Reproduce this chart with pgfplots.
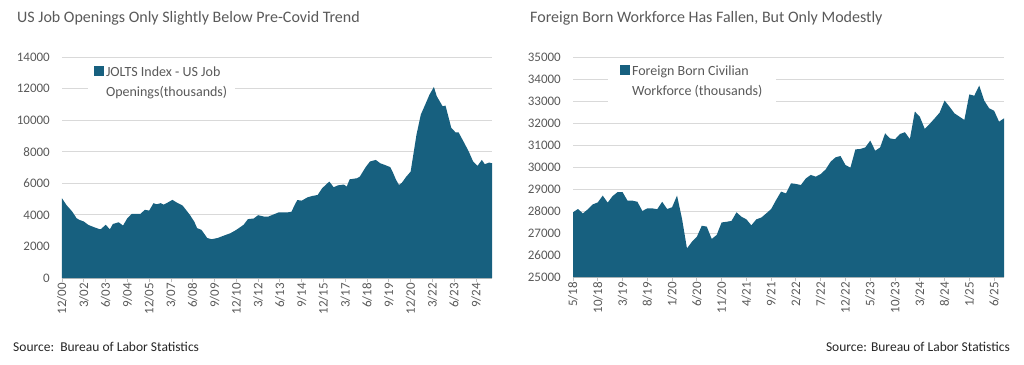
\documentclass[border=0pt]{standalone}
\usepackage{fontspec}
\setmainfont{Carlito}
\usepackage{pgfplots}
\pgfplotsset{compat=1.18}
\definecolor{fillc}{HTML}{17607F}
\definecolor{txt}{HTML}{595959}
\definecolor{gridc}{HTML}{D9D9D9}
\definecolor{axc}{HTML}{BFBFBF}
\pgfplotsset{mystyle/.style={
  scale only axis, clip=true,
  axis lines*=left,
  y axis line style={draw=none},
  x axis line style={draw=axc, line width=0.9pt, -},
  ytick style={draw=white, line width=0pt},
  xtick style={draw=axc, line width=0.9pt},
  major tick length=4pt, tick align=outside,
  ymajorgrids, major grid style={draw=gridc, line width=0.9pt},
  scaled y ticks=false,
  tick label style={font=\fontsize{13}{13}\selectfont, text=txt},
  /pgf/number format/assume math mode=true,
  /pgf/number format/set thousands separator={},
  /pgf/number format/fixed,
  x tick label style={rotate=90, anchor=east, inner sep=1pt},
  y tick label style={inner sep=0pt, xshift=-8pt},
  legend style={draw=none, fill=white, font=\fontsize{14}{20.5}\selectfont, text=txt,
     cells={align=left}, inner xsep=6pt, inner ysep=4pt},
  legend cell align=left,
  legend image code/.code={\fill[fillc] (0pt,6pt) rectangle (10pt,16pt);},
}}
\begin{document}
\begin{tikzpicture}
\path[use as bounding box] (0,0) rectangle (1024pt,364pt);
\node[anchor=west, inner sep=0pt, font=\fontsize{16}{16}\selectfont, text=txt] at (17pt,346pt) {US Job Openings Only Slightly Below Pre-Covid Trend};
\node[anchor=west, inner sep=0pt, font=\fontsize{16}{16}\selectfont, text=txt] at (530pt,346pt) {Foreign Born Workforce Has Fallen, But Only Modestly};
\node[anchor=west, inner sep=0pt, font=\fontsize{13.5}{13.5}\selectfont, text=black!85] at (13pt,17pt) {Source:\ \ Bureau of Labor Statistics};
\node[anchor=east, inner sep=0pt, font=\fontsize{13.5}{13.5}\selectfont, text=black!85] at (1010pt,17pt) {Source: Bureau of Labor Statistics};

\begin{axis}[mystyle, at={(62pt,86pt)}, anchor=south west, width=430pt, height=221pt,
  xmin=0, xmax=296, ymin=0, ymax=14000, ytick={0,2000,...,14000},
  xtick={0,15,...,285},
  xticklabels={12/00,3/02,6/03,9/04,12/05,3/07,6/08,9/09,12/10,3/12,6/13,9/14,12/15,3/17,6/18,9/19,12/20,3/22,6/23,9/24},
  legend style={at={(0.06,0.985)}, anchor=north west}]
\addplot[fill=fillc, draw=none] coordinates {
(0,5050) (3,4630) (7,4210) (10,3790) (12,3680) (15,3580) (18,3370) (22,3220) (26,3090) (27,3110) (30,3370) (33,3090) (35,3420) (39,3530) (42,3320) (45,3790) (48,4060) (51,4060) (54,4060) (57,4320) (60,4270) (63,4740) (65,4670) (68,4740) (70,4650) (72,4740) (76,4950) (79,4780) (83,4590) (85,4360) (88,4000) (91,3580) (93,3160) (96,3050) (100,2530) (103,2460) (107,2530) (111,2670) (116,2840) (120,3050) (125,3370) (128,3730) (132,3770) (135,3980) (139,3890) (142,3890) (146,4040) (149,4150) (155,4150) (158,4200) (160,4600) (162,4940) (165,4900) (169,5110) (172,5190) (176,5260) (179,5680) (184,6110) (187,5750) (190,5870) (194,5920) (196,5790) (198,6250) (203,6320) (205,6420) (209,7020) (212,7380) (216,7480) (219,7270) (222,7170) (226,7020) (228,6640) (230,6210) (232,5890) (234,6040) (237,6420) (240,6740) (244,9070) (247,10350) (250,10980) (253,11620) (256,12100) (258,11510) (262,10880) (264,10920) (268,9500) (271,9220) (273,9220) (277,8540) (280,8010) (283,7380) (286,7100) (289,7480) (291,7210) (294,7310) (296,7270)
} \closedcycle;
\addlegendentry{JOLTS Index - US Job\\Openings(thousands)}
\end{axis}

\begin{axis}[mystyle, at={(573pt,87pt)}, anchor=south west, width=431pt, height=220pt,
  xmin=0, xmax=87, ymin=25000, ymax=35000, ytick={25000,26000,...,35000},
  xtick={0,5,...,85},
  xticklabels={5/18,10/18,3/19,8/19,1/20,6/20,11/20,4/21,9/21,2/22,7/22,12/22,5/23,10/23,3/24,8/24,1/25,6/25},
  legend style={at={(0.081,0.99)}, anchor=north west, inner xsep=12pt}]
\addplot[fill=fillc, draw=none] coordinates {
(0,27940) (1,28090) (2,27890) (3,28080) (4,28300) (5,28390) (6,28700) (7,28380) (8,28680) (9,28860)
(10,28860) (11,28470) (12,28470) (13,28420) (14,28000) (15,28120) (16,28120) (17,28080) (18,28420) (19,28090)
(20,28170) (21,28700) (22,27650) (23,26300) (24,26600) (25,26830) (26,27330) (27,27290) (28,26730) (29,26910)
(30,27480) (31,27510) (32,27550) (33,27940) (34,27740) (35,27620) (36,27350) (37,27620) (38,27700) (39,27890)
(40,28090) (41,28500) (42,28880) (43,28800) (44,29260) (45,29230) (46,29180) (47,29480) (48,29640) (49,29560)
(50,29680) (51,29890) (52,30240) (53,30440) (54,30500) (55,30090) (56,29970) (57,30800) (58,30820) (59,30890)
(60,31200) (61,30740) (62,30890) (63,31530) (64,31300) (65,31260) (66,31500) (67,31580) (68,31270) (69,32520)
(70,32290) (71,31730) (72,31960) (73,32210) (74,32470) (75,33020) (76,32740) (77,32440) (78,32290) (79,32140)
(80,33300) (81,33240) (82,33700) (83,33020) (84,32670) (85,32560) (86,32060) (87,32210)
} \closedcycle;
\addlegendentry{Foreign Born Civilian\\Workforce (thousands)}
\end{axis}
\end{tikzpicture}
\end{document}
